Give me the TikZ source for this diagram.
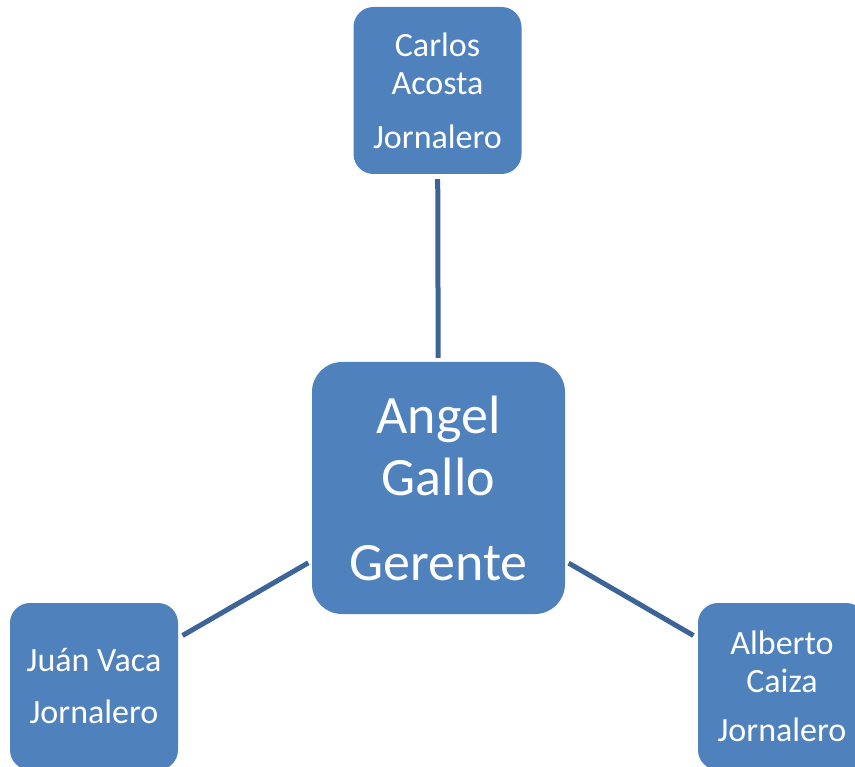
\documentclass[tikz,border=0pt]{standalone}
\usepackage{fontspec}
\setmainfont{Carlito}
\definecolor{boxblue}{HTML}{4F81BD}
\definecolor{linkblue}{HTML}{3D6497}
\begin{document}
\begin{tikzpicture}[x=1pt,y=-1pt,
  box/.style={fill=boxblue, draw=none, text=white, align=center, inner sep=0pt},
  bigbox/.style={box, rounded corners=30pt, minimum width=253pt, minimum height=252pt,
    font=\fontsize{54}{62}\selectfont},
  smallbox/.style={box, rounded corners=20pt, minimum width=168pt, minimum height=167pt,
    font=\fontsize{34}{38}\selectfont},
  link/.style={draw=linkblue, line width=5pt, shorten <=4pt, shorten >=5pt}]
\useasboundingbox (0,0) rectangle (855,767);
\clip (0,0) rectangle (855,767);
\node[bigbox] (c) at (438.5,488) {Angel\\Gallo\\[23pt]Gerente};
\node[smallbox] (t) at (437.5,90.5) {Carlos\\Acosta\\[16pt]Jornalero};
\node[smallbox] (l) at (94,686.5) {Juán Vaca\\[14pt]Jornalero};
\node[smallbox] (r) at (782,686.5) {Alberto\\Caiza\\[11pt]Jornalero};
\draw[link] (c) -- (t);
\draw[link] (c) -- (l);
\draw[link] (c) -- (r);
\end{tikzpicture}
\end{document}
